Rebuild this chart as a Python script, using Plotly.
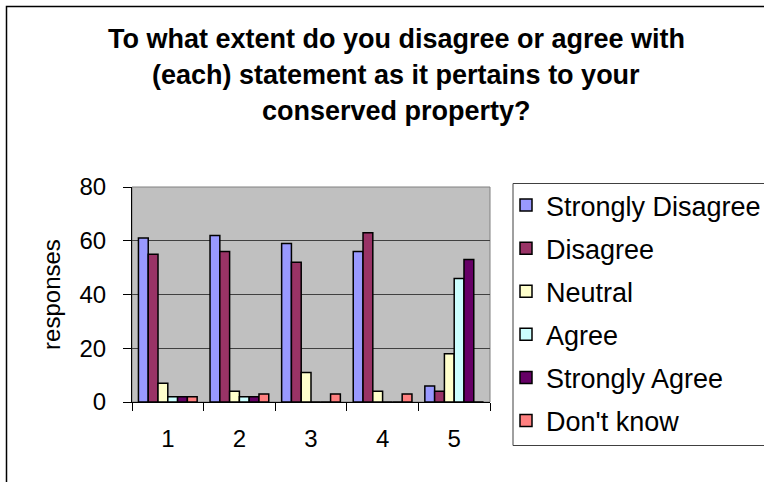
import plotly.graph_objects as go

# Survey responses per statement
statements = ["1", "2", "3", "4", "5"]
strongly_disagree = [61, 62, 59, 56, 6]
disagree = [55, 56, 52, 63, 4]
neutral = [7, 4, 11, 4, 18]
agree = [2, 2, 0, 0, 46]
strongly_agree = [2, 2, 0, 0, 53]
dont_know = [2, 3, 3, 3, 0]

series_names = ["Strongly Disagree", "Disagree", "Neutral", "Agree",
                "Strongly Agree", "Don't know"]
series_values = [strongly_disagree, disagree, neutral, agree,
                 strongly_agree, dont_know]
series_colors = ["#9999FF", "#993366", "#FFFFCC", "#CCFFFF", "#660066", "#FF8080"]

title_lines = [
    "To what extent do you disagree or agree with",
    "(each) statement as it pertains to your",
    "conserved property?",
]

W, H = 764, 482
ML, MR, MT, MB = 132, 274, 187, 80
PW, PH = W - ML - MR, H - MT - MB


def px_x(px):
    return (px - ML) / PW


def px_y(py):
    return (H - MB - py) / PH


FONT = "Arial, 'Liberation Sans', sans-serif"

fig = go.Figure()
for name, vals, col in zip(series_names, series_values, series_colors):
    fig.add_trace(go.Bar(
        x=statements, y=vals, name=name, legendgroup=name,
        marker=dict(color=col, line=dict(color="black", width=1.5)),
    ))

annotations = []
title_baselines = [47, 83, 119]
for line, base in zip(title_lines, title_baselines):
    annotations.append(dict(
        text=f"<b>{line}</b>", xref="paper", yref="paper",
        x=px_x(396), y=px_y(base - 8), xanchor="center", yanchor="middle",
        showarrow=False, font=dict(family=FONT, size=27, color="black"),
    ))

shapes = [
    # outer chart frame
    dict(type="rect", xref="paper", yref="paper",
         x0=px_x(6.5), x1=px_x(820), y0=px_y(520), y1=px_y(6.5),
         line=dict(color="black", width=1.5), layer="below"),
    # plot area frame
    dict(type="rect", xref="paper", yref="paper", x0=0, x1=1, y0=0, y1=1,
         line=dict(color="#808080", width=1), layer="below"),
    # legend frame
    dict(type="rect", xref="paper", yref="paper",
         x0=px_x(513), x1=px_x(820), y0=px_y(445.5), y1=px_y(183.5),
         line=dict(color="#404040", width=1), layer="above"),
]

fig.update_layout(
    width=W, height=H,
    margin=dict(l=ML, r=MR, t=MT, b=MB, autoexpand=False),
    paper_bgcolor="white", plot_bgcolor="#C0C0C0",
    barmode="group", bargap=0.18, bargroupgap=0,
    font=dict(family=FONT, color="black"),
    showlegend=True,
    legend=dict(
        x=px_x(506), y=px_y(181), xanchor="left", yanchor="top",
        font=dict(family=FONT, size=27, color="black"),
        bgcolor="rgba(0,0,0,0)", borderwidth=0,
        tracegroupgap=5, traceorder="grouped", maxheight=320,
    ),
    xaxis=dict(
        type="category", tickson="boundaries", ticks="outside", ticklen=8,
        tickcolor="black", showline=True, linecolor="black", linewidth=1,
        showgrid=False, tickfont=dict(size=24), ticklabelstandoff=15,
    ),
    yaxis=dict(
        range=[0, 80], dtick=20, ticks="outside", ticklen=8, tickcolor="black",
        showline=True, linecolor="black", linewidth=1,
        showgrid=True, gridcolor="#404040", gridwidth=1, zeroline=False,
        tickfont=dict(size=24), ticklabelstandoff=12,
        title=dict(text="responses", font=dict(size=24), standoff=12),
    ),
    annotations=annotations,
    shapes=shapes,
)

fig.write_html("out.html")
